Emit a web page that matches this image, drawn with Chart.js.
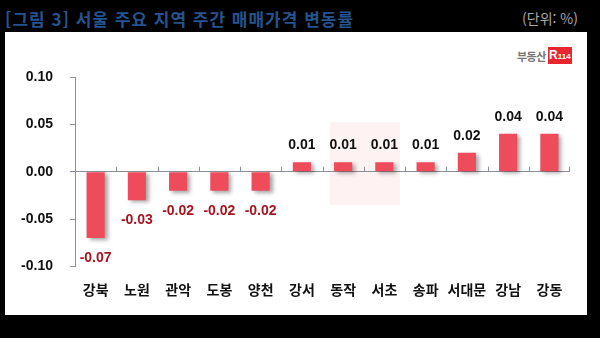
<!DOCTYPE html>
<html lang="ko">
<head>
<meta charset="UTF-8">
<title>서울 주요 지역 주간 매매가격 변동률</title>
<script src="https://cdn.jsdelivr.net/npm/chart.js"></script>
<style>
    html, body {
        margin: 0;
        padding: 0;
        background: #000;
        width: 600px;
        height: 338px;
        overflow: hidden;
    }
    .title {
        position: absolute;
        left: 5px;
        top: 9px;
        font-family: "Noto Sans CJK KR", sans-serif;
        font-weight: bold;
        font-size: 17px;
        letter-spacing: 1px;
        color: #24548f;
        white-space: nowrap;
        line-height: 20px;
    }
    .unit {
        position: absolute;
        right: 22px;
        top: 8px;
        font-family: "Noto Sans CJK KR", sans-serif;
        font-size: 14px;
        color: #a8a8a8;
        line-height: 20px;
    }
    .panel {
        position: absolute;
        left: 5px;
        top: 32px;
        width: 582px;
        height: 283px;
        background: #fff;
    }
    .mark {
        position: absolute;
        left: 325px;
        top: 90px;
        width: 70px;
        height: 83px;
        background: rgba(240, 110, 125, 0.09);
    }
    .logo {
        position: absolute;
        left: 512px;
        top: 15px;
        height: 17px;
        display: flex;
        align-items: center;
    }
    .logo .txt {
        font-family: "Noto Sans CJK KR", sans-serif;
        font-size: 11px;
        font-weight: bold;
        color: #777;
        margin-right: 2px;
        letter-spacing: -0.5px;
    }
    .logo .box {
        background: #e8262f;
        color: #fff;
        font-family: "Liberation Sans", Arial, sans-serif;
        font-weight: bold;
        font-size: 12px;
        width: 24px;
        height: 17px;
        line-height: 17px;
        text-align: center;
    }
    .logo .box small { font-size: 8px; }
    canvas { position: absolute; left: 0; top: 0; }
</style>
</head>
<body>
<div class="title">[그림 3] 서울 주요 지역 주간 매매가격 변동률</div>
<div class="unit">(단위: %)</div>
<div class="panel">
    <div class="mark"></div>
    <div class="logo"><span class="txt">부동산</span><span class="box">R<small>114</small></span></div>
    <canvas id="chart" width="582" height="283"></canvas>
</div>

<script>
    // 지역별 주간 변동률 (%)
    const regions = ['강북', '노원', '관악', '도봉', '양천', '강서', '동작', '서초', '송파', '서대문', '강남', '강동'];
    const changes = [-0.07, -0.03, -0.02, -0.02, -0.02, 0.01, 0.01, 0.01, 0.01, 0.02, 0.04, 0.04];
    const yTicks = [-0.10, -0.05, 0.00, 0.05, 0.10];

    const barColor = '#ee4b5b';
    const axisColor = '#8a8f99';

    // 막대 그림자
    const barShadow = {
        id: 'barShadow',
        beforeDatasetsDraw(chart) {
            const ctx = chart.ctx;
            ctx.save();
            ctx.shadowColor = 'rgba(0, 0, 0, 0.35)';
            ctx.shadowBlur = 4;
            ctx.shadowOffsetX = 3;
            ctx.shadowOffsetY = 2;
        },
        afterDatasetsDraw(chart) {
            chart.ctx.restore();
        }
    };

    // x축 눈금 (0선 위쪽으로 짧게)
    const zeroTicks = {
        id: 'zeroTicks',
        afterDatasetsDraw(chart) {
            const ctx = chart.ctx;
            const x = chart.scales.x;
            const y0 = chart.scales.y.getPixelForValue(0);
            ctx.save();
            ctx.strokeStyle = axisColor;
            ctx.lineWidth = 1;
            ctx.beginPath();
            for (let i = 0; i < regions.length; i++) {
                const px = Math.round((x.getPixelForValue(i) + x.getPixelForValue(i + 1)) / 2) + 0.5;
                const edge = i === regions.length - 1 ? Math.round(chart.chartArea.right) - 0.5 : px;
                ctx.moveTo(edge, y0);
                ctx.lineTo(edge, y0 - 5);
            }
            ctx.stroke();
            ctx.restore();
        }
    };

    // 값 라벨
    const valueLabels = {
        id: 'valueLabels',
        afterDatasetsDraw(chart) {
            const ctx = chart.ctx;
            const meta = chart.getDatasetMeta(0);
            ctx.save();
            ctx.font = 'bold 14px "Liberation Sans", Arial, sans-serif';
            ctx.textAlign = 'center';
            ctx.textBaseline = 'middle';
            meta.data.forEach((bar, i) => {
                const v = changes[i];
                if (v < 0) {
                    ctx.fillStyle = '#a8141f';
                    ctx.fillText(v.toFixed(2), bar.x, bar.y + 20);
                } else {
                    ctx.fillStyle = '#111';
                    ctx.fillText(v.toFixed(2), bar.x, bar.y - 17);
                }
            });
            ctx.restore();
        }
    };

    new Chart(document.getElementById('chart'), {
        type: 'bar',
        data: {
            labels: regions,
            datasets: [{
                data: changes,
                backgroundColor: barColor,
                borderWidth: 0,
                barPercentage: 0.44,
                categoryPercentage: 1.0
            }]
        },
        options: {
            responsive: false,
            animation: false,
            layout: { padding: { top: 45, right: 17, bottom: 0, left: 0 } },
            plugins: {
                legend: { display: false },
                tooltip: { enabled: false }
            },
            scales: {
                x: {
                    grid: { display: false, drawTicks: false },
                    border: { display: false },
                    ticks: {
                        color: '#111',
                        padding: 15,
                        autoSkip: false,
                        minRotation: 0,
                        maxRotation: 0,
                        font: { family: '"Noto Sans CJK KR", sans-serif', size: 14, weight: 'bold' }
                    },
                    afterFit(scale) { scale.height = 48.5; }
                },
                y: {
                    min: -0.1,
                    max: 0.1,
                    afterBuildTicks(scale) { scale.ticks = yTicks.map(v => ({ value: v })); },
                    grid: {
                        drawOnChartArea: true,
                        drawTicks: true,
                        tickLength: 5,
                        color: ctx => ctx.tick && ctx.tick.value === 0 ? axisColor : 'rgba(0,0,0,0)',
                        tickColor: axisColor
                    },
                    border: { color: axisColor },
                    ticks: {
                        color: '#111',
                        padding: 17,
                        font: { family: '"Liberation Sans", Arial, sans-serif', size: 14, weight: 'bold' },
                        callback: v => v.toFixed(2)
                    },
                    afterFit(scale) { scale.width = 70; }
                }
            }
        },
        plugins: [barShadow, zeroTicks, valueLabels]
    });
</script>
</body>
</html>
